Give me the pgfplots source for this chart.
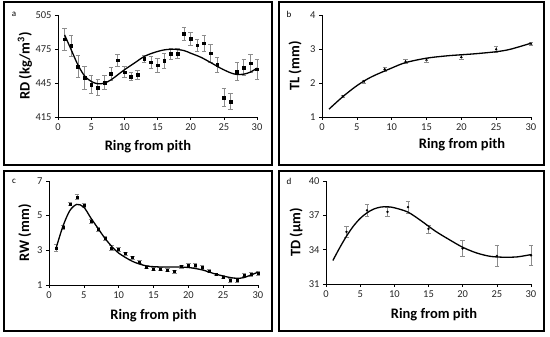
\documentclass[border=0pt]{standalone}
\usepackage{fontspec}
\setmainfont{Carlito}
\usepackage{pgfplots}
\pgfplotsset{compat=1.18}

\newcommand{\labfont}{\bfseries\fontsize{14.5}{15}\selectfont}
\pgfplotsset{
  panel/.style={
    scale only axis,
    axis lines=left,
    axis line style={-, line width=0.8pt, black},
    tick style={black, line width=0.6pt},
    tick align=outside,
    major tick length=3pt,
    xmin=0, xmax=30, xtick={0,5,...,30},
    tick label style={font=\fontsize{10.5}{11}\selectfont, text=black!85},
    /pgf/number format/assume math mode=true,
    xlabel={Ring from pith},
    clip=false,
  },
  errs/.style={only marks, mark=square*, mark size=1.4pt, black,
    error bars/y dir=both, error bars/y explicit,
    error bars/error mark options={rotate=90, mark size=2.2pt, black!45, line width=0.6pt},
    error bars/error bar style={black!45, line width=0.6pt}},
  fit/.style={no marks, black, line width=1.3pt, smooth},
}

\begin{document}
\begin{tikzpicture}[x=1pt,y=1pt]
\useasboundingbox (0,0) rectangle (550,337);
\draw[line width=1.2pt] (4,335) rectangle (272,172);
\draw[line width=1.2pt] (279,335) rectangle (544,172);
\draw[line width=1.2pt] (4,166) rectangle (272,6);
\draw[line width=1.2pt] (279,166) rectangle (544,6);
\node[font=\fontsize{9}{10}\selectfont] at (14,323) {a};
\node[font=\fontsize{9}{10}\selectfont] at (289,323) {b};
\node[font=\fontsize{9}{10}\selectfont] at (14,156) {c};
\node[font=\fontsize{9}{10}\selectfont] at (289,156) {d};

% Panel a
\begin{axis}[panel, at={(58pt,220pt)}, anchor=south west, width=199pt, height=102pt,
  ymin=415, ymax=505, ytick={415,445,475,505},
  ylabel={RD (kg/m$^{\mathbf{3}}$)},
  every axis y label/.style={at={(axis description cs:-0.166,0.5)}, rotate=90, anchor=center, font=\labfont},
  every axis x label/.style={at={(axis description cs:0.452,-0.29)}, anchor=center, font=\labfont}]
\addplot[errs] table[x=x, y=y, y error=e] {
x y e
1 483.6 10
2 477.7 9
3 459.6 10
4 449.6 10
5 443.7 8
6 441.1 7
7 445.5 6
8 453.1 6
9 465.1 5
10 454.6 5
11 450.5 3.5
12 452.0 4
13 466.6 3
14 463.4 5
15 460.7 6
16 464.6 7
17 470.7 5
18 471.0 4.5
19 488.3 6
20 484.2 5.5
21 478.3 5
22 480.1 7
23 471.3 8
24 461.0 7
25 432.3 8
26 428.8 7
27 455.2 8
28 458.7 7
29 462.5 8
30 457.2 9
};
\addplot[fit] coordinates {
(1,487.4) (2,474.2) (3,461.0) (4,451.3) (5,446.4) (6,444.3) (7,444.9) (8,447.8)
(9,452.2) (10,456.6) (11.5,462.5) (13,468.4) (14.5,471.9) (16,474.2) (17.5,474.8)
(19,473.6) (20,471.3) (21.5,467.8) (23,463.1) (24.5,458.1) (26,454.0) (27,452.5)
(28,452.8) (29,454.6) (30,458.1)
};
\end{axis}

% Panel b
\begin{axis}[panel, at={(322pt,220pt)}, anchor=south west, width=209pt, height=102pt,
  ymin=1, ymax=4, ytick={1,2,3,4},
  ylabel={TL (mm)},
  every axis y label/.style={at={(axis description cs:-0.129,0.5)}, rotate=90, anchor=center, font=\labfont},
  every axis x label/.style={at={(axis description cs:0.67,-0.275)}, anchor=center, font=\labfont}]
\addplot[errs, mark=triangle*, mark size=1.2pt] table[x=x, y=y, y error=e] {
x y e
3 1.605 0.04
6 2.045 0.04
9 2.407 0.06
12 2.63 0.06
15 2.68 0.06
20 2.76 0.07
25 2.99 0.08
30 3.15 0.05
};
\addplot[fit] coordinates {
(1,1.23) (3,1.60) (5,1.92) (7,2.17) (10,2.44) (12,2.60) (15,2.73) (18,2.80)
(20,2.83) (22,2.86) (25,2.92) (27,2.99) (30,3.17)
};
\end{axis}

% Panel c
\begin{axis}[panel, at={(49pt,52pt)}, anchor=south west, width=209pt, height=104pt,
  ymin=1, ymax=7, ytick={1,3,5,7},
  ylabel={RW (mm)},
  every axis y label/.style={at={(axis description cs:-0.115,0.5)}, rotate=90, anchor=center, font=\labfont},
  every axis x label/.style={at={(axis description cs:0.50,-0.29)}, anchor=center, font=\labfont}]
\addplot[errs, mark size=1pt] table[x=x, y=y, y error=e] {
x y e
1 3.13 0.2
2 4.33 0.12
3 5.68 0.1
4 6.07 0.15
5 5.59 0.12
6 4.68 0.12
7 4.23 0.12
8 3.71 0.12
9 3.13 0.15
10 3.07 0.1
11 2.82 0.08
12 2.59 0.08
13 2.34 0.1
14 2.05 0.1
15 1.93 0.1
16 1.93 0.1
17 1.87 0.1
18 1.77 0.1
19 2.06 0.1
20 2.16 0.12
21 2.16 0.12
22 2.01 0.1
23 1.81 0.08
24 1.62 0.08
25 1.46 0.08
26 1.27 0.1
27 1.27 0.1
28 1.58 0.1
29 1.62 0.1
30 1.68 0.1
};
\addplot[fit] coordinates {
(1,3.10) (2,4.39) (3,5.30) (4,5.65) (5,5.49) (6,4.87) (7,4.29) (8,3.71) (9,3.23)
(10,2.84) (12,2.36) (14,2.10) (16,2.04) (18,2.04) (20,2.01) (22,1.87) (24,1.62)
(26,1.43) (27,1.39) (28,1.43) (30,1.74)
};
\end{axis}

% Panel d
\begin{axis}[panel, at={(326pt,53pt)}, anchor=south west, width=205pt, height=103pt,
  ymin=31, ymax=40, ytick={31,34,37,40},
  ylabel={TD (µm)},
  every axis y label/.style={at={(axis description cs:-0.146,0.5)}, rotate=90, anchor=center, font=\labfont},
  every axis x label/.style={at={(axis description cs:0.527,-0.30)}, anchor=center, font=\labfont}]
\addplot[errs, mark=*, mark size=1pt] table[x=x, y=y, y error=e] {
x y e
3 35.56 0.5
6 37.43 0.5
9 37.31 0.4
12 37.72 0.5
15 35.82 0.35
20 34.10 0.7
25 33.45 0.9
30 33.51 0.85
};
\addplot[fit] coordinates {
(1,33.05) (2,34.16) (3,35.18) (4,36.05) (5,36.73) (6,37.22) (7,37.55) (8,37.72)
(9,37.75) (10,37.66) (12,37.28) (14,36.49) (16,35.62) (18,34.89) (20,34.21)
(22,33.72) (24,33.42) (26,33.34) (28,33.37) (30,33.57)
};
\end{axis}
\end{tikzpicture}
\end{document}
